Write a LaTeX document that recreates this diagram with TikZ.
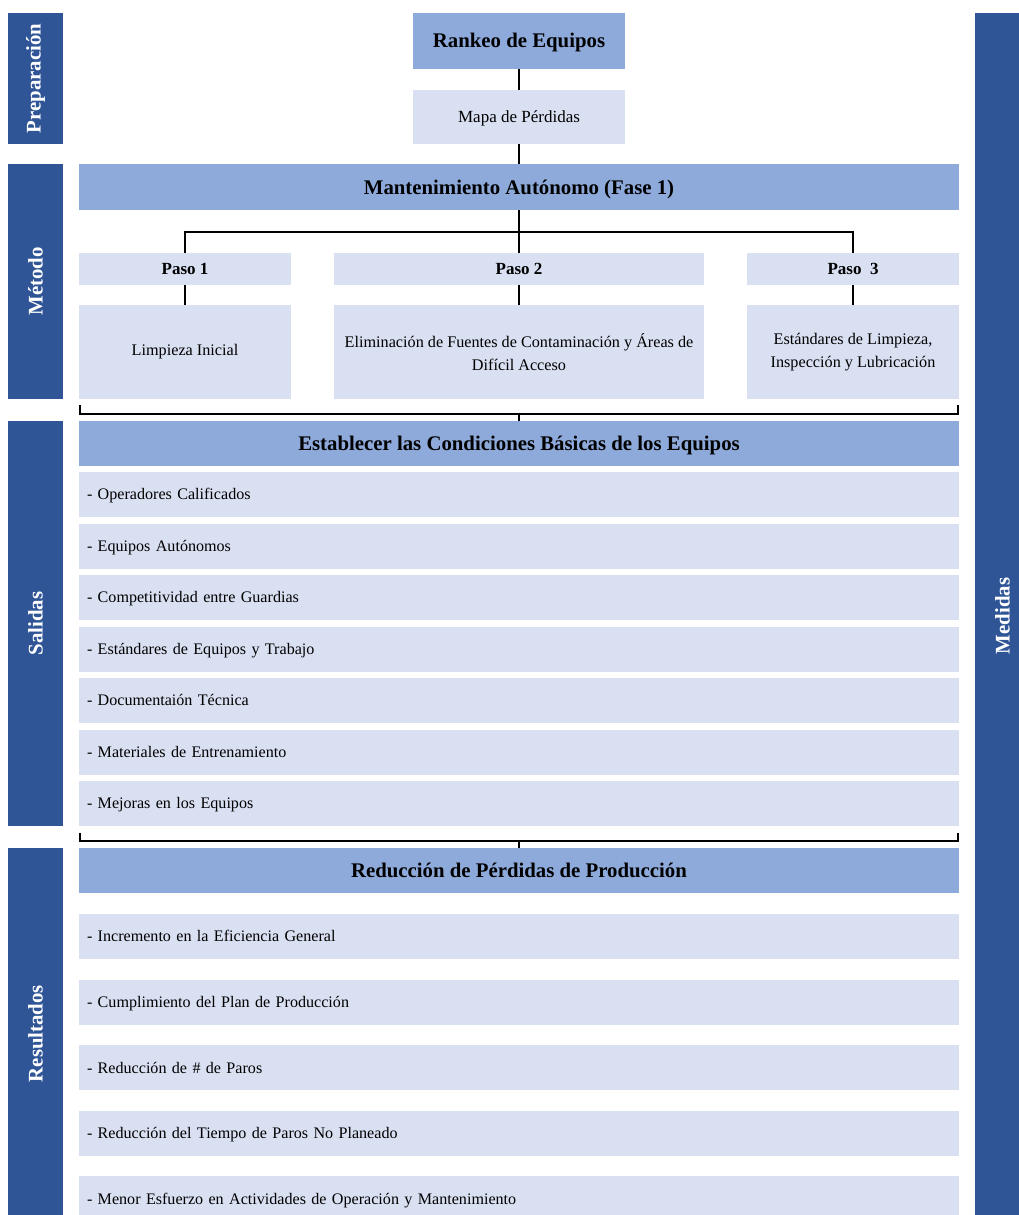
\documentclass[tikz,border=0pt]{standalone}
\usepackage{fontspec}
\setmainfont{Liberation Serif}
\definecolor{bardark}{HTML}{2F5597}
\definecolor{midblue}{HTML}{8EAADB}
\definecolor{lightblue}{HTML}{D9E0F2}
\tikzset{
  base/.style={rectangle, inner sep=0pt, outer sep=0pt, text=black},
  hdr/.style={base, fill=midblue, text height=18.5pt, text depth=4.5pt,
    font=\fontsize{20.8}{24}\selectfont\bfseries},
  cell/.style={base, fill=lightblue, font=\fontsize{17}{23}\selectfont, align=center},
  pasobox/.style={base, fill=lightblue, minimum height=32, text height=15.1pt, text depth=3.7pt,
    font=\fontsize{17}{20}\selectfont\bfseries},
  detbox/.style={cell, minimum height=94, font=\fontsize{16.2}{23}\selectfont},
  itembox/.style={base, fill=lightblue, minimum width=880, minimum height=45,
    text width=864, inner xsep=8pt, align=left, text height=14.3pt, text depth=3.5pt,
    font=\fontsize{16.1}{20}\selectfont},
  sidebar/.style={base, fill=bardark, text=white, rotate=90, minimum height=55,
    font=\fontsize{20.8}{24}\selectfont\bfseries},
  link/.style={draw=black, line width=2pt},
}
\begin{document}
\begin{tikzpicture}[x=1pt,y=-1pt]
\useasboundingbox (0,0) rectangle (1019,1215);
\clip (0,0) rectangle (1019,1215);

% stage bars on the left and the measures bar on the right
\node[sidebar, minimum width=131]  (prep) at (35.5,78.5)   {Preparación};
\node[sidebar, minimum width=235]  (meto) at (35.5,281.5)  {Método};
\node[sidebar, minimum width=405]  (sali) at (35.5,623.5)  {Salidas};
\node[sidebar, minimum width=371]  (resu) at (35.5,1033.5) {Resultados};
\node[sidebar, minimum width=1206] (medi) at (1002.5,616)  {Medidas};

% preparation
\node[hdr, minimum width=212, minimum height=56] (rank) at (519,41) {Rankeo de Equipos};
\node[cell, minimum width=212, minimum height=54, text height=15.1pt, text depth=3.7pt] (mapa) at (519,117) {Mapa de Pérdidas};

% method
\node[hdr, minimum width=880, minimum height=46] (mant) at (519,187) {Mantenimiento Autónomo (Fase 1)};
\node[pasobox, minimum width=212] (paso1) at (185,269) {Paso 1};
\node[pasobox, minimum width=370] (paso2) at (519,269) {Paso 2};
\node[pasobox, minimum width=212] (paso3) at (853,269) {Paso\ \ 3};
\node[detbox, minimum width=212] (det1) at (185,352) {Limpieza Inicial};
\node[detbox, minimum width=370] (det2) at (519,352) {Eliminación de Fuentes de Contaminación y Áreas de\\Difícil Acceso};
\node[detbox, minimum width=212] (det3) at (853,352) {Estándares de Limpieza,\\Inspección y Lubricación};

% outputs
\node[hdr, minimum width=880, minimum height=45] (est) at (519,443.5) {Establecer las Condiciones Básicas de los Equipos};
\foreach \t [count=\i from 0] in {
    Operadores Calificados,
    Equipos Autónomos,
    Competitividad entre Guardias,
    Estándares de Equipos y Trabajo,
    Documentaión Técnica,
    Materiales de Entrenamiento,
    Mejoras en los Equipos}
  \node[itembox] (sal\i) at (519,494.5+51.5*\i) {- \t};

% results
\node[hdr, minimum width=880, minimum height=45] (red) at (519,870.5) {Reducción de Pérdidas de Producción};
\foreach \t [count=\i from 0] in {
    Incremento en la Eficiencia General,
    Cumplimiento del Plan de Producción,
    Reducción de \# de Paros,
    Reducción del Tiempo de Paros No Planeado,
    Menor Esfuerzo en Actividades de Operación y Mantenimiento}
  \node[itembox] (res\i) at (519,936.5+65.6*\i) {- \t};

% connectors
\coordinate (hub) at (519,232);
\draw[link] (rank) -- (mapa);
\draw[link] (mapa) -- (mant);
\draw[link] (mant) -- (paso2);
\draw[link] (paso1.north) |- (hub) -| (paso3.north);
\draw[link] (paso1) -- (det1);
\draw[link] (paso2) -- (det2);
\draw[link] (paso3) -- (det3);

% brackets collecting each section
\coordinate (b1l) at (80,405);
\coordinate (b1r) at (958,405);
\coordinate (b1)  at (519,414);
\draw[link] (b1l) |- (b1) -| (b1r);
\draw[link] (b1) -- (est);

\coordinate (b2l) at (80,833);
\coordinate (b2r) at (958,833);
\coordinate (b2)  at (519,841);
\draw[link] (b2l) |- (b2) -| (b2r);
\draw[link] (b2) -- (red);
\end{tikzpicture}
\end{document}
